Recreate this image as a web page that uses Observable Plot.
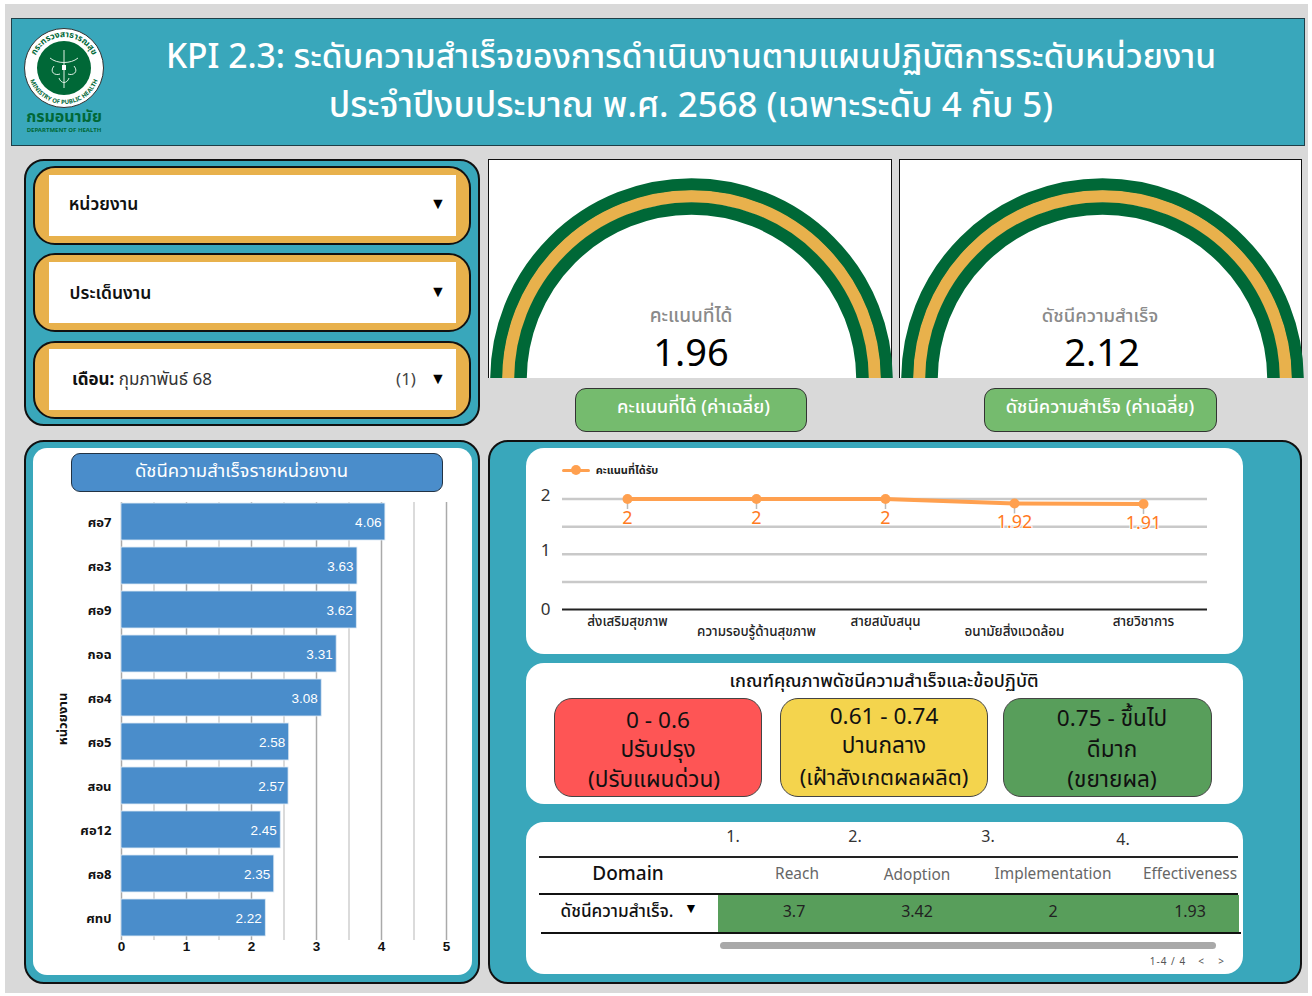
<!DOCTYPE html>
<html><head><meta charset="utf-8">
<script src="https://cdn.jsdelivr.net/npm/d3@7"></script>
<script src="https://cdn.jsdelivr.net/npm/@observablehq/plot@0.6"></script>
<style>
html,body{margin:0;padding:0;background:#fff;width:1312px;height:996px;overflow:hidden}
#app{position:relative;width:1312px;height:996px;font-family:"Noto Sans","Noto Sans Thai",sans-serif}
#app div{position:absolute;box-sizing:border-box}
.t{white-space:nowrap;transform:translate(-50%,-50%);line-height:1.2}
svg{display:block}
</style></head><body><div id="app"></div>
<script>
const FONT='"Noto Sans","Noto Sans Thai",sans-serif';
// ---- data ----
const units=["ศอ7","ศอ3","ศอ9","กอฉ","ศอ4","ศอ5","สอน","ศอ12","ศอ8","ศทป"];
const unitIndex=[4.06,3.63,3.62,3.31,3.08,2.58,2.57,2.45,2.35,2.22];
const workAreas=["ส่งเสริมสุขภาพ","ความรอบรู้ด้านสุขภาพ","สายสนับสนุน","อนามัยสิ่งแวดล้อม","สายวิชาการ"];
const workScores=[2,2,2,1.92,1.91];
const domains=["Reach","Adoption","Implementation","Effectiveness"];
const domainNumbers=["1.","2.","3.","4."];
const domainValues=[3.7,3.42,2,1.93];
const gaugeLabels=["คะแนนที่ได้","ดัชนีความสำเร็จ"];
const gaugeValues=[1.96,2.12];
const gaugeButtons=["คะแนนที่ได้ (ค่าเฉลี่ย)","ดัชนีความสำเร็จ (ค่าเฉลี่ย)"];

const TEAL="#39a7bb",ORANGE="#e8b14c",DKGREEN="#006837",BLUE="#4a8dcb",GREEN="#589e5b";
const app=document.getElementById("app");
function box(x0,y0,x1,y1,css={},parent=app){const d=document.createElement("div");
  Object.assign(d.style,{left:x0+"px",top:y0+"px",width:(x1-x0)+"px",height:(y1-y0)+"px"},css);parent.appendChild(d);return d;}
function text(s,cx,cy,size,color,css={}){const d=document.createElement("div");d.className="t";d.textContent=s;
  Object.assign(d.style,{left:cx+"px",top:cy+"px",fontSize:size+"px",color},css);app.appendChild(d);return d;}
function place(node,x,y,w,h){const d=box(x,y,x+w,y+h);d.appendChild(node);return d;}

// ---- page ----
box(5,4,1308,993,{background:"#d9d9d9"});
box(11,18,1305,146,{background:TEAL,border:"1.5px solid #1f3f48"});
text("KPI 2.3: ระดับความสำเร็จของการดำเนินงานตามแผนปฏิบัติการระดับหน่วยงาน",691,55,33.6,"#fff",{fontWeight:500});
text("ประจำปีงบประมาณ พ.ศ. 2568 (เฉพาะระดับ 4 กับ 5)",691,104,34.9,"#fff",{fontWeight:500});

// logo
const logo=d3.create("svg").attr("width",90).attr("height",112).attr("viewBox","0 0 90 112");
logo.append("circle").attr("cx",45).attr("cy",40).attr("r",39.5).attr("fill","#fff").attr("stroke","#333").attr("stroke-width",1);
logo.append("circle").attr("cx",45).attr("cy",40).attr("r",27).attr("fill",DKGREEN);
logo.append("path").attr("id","arcTop").attr("d","M14,40 A31,31 0 0 1 76,40").attr("fill","none");
logo.append("path").attr("id","arcBot").attr("d","M9,40 A36,36 0 0 0 81,40").attr("fill","none");
logo.append("text").attr("font-size",8.5).attr("font-weight",700).attr("fill",DKGREEN).append("textPath").attr("href","#arcTop").attr("startOffset","50%").attr("text-anchor","middle").text("กระทรวงสาธารณสุข");
logo.append("text").attr("font-size",6).attr("font-weight",700).attr("fill",DKGREEN).append("textPath").attr("href","#arcBot").attr("startOffset","50%").attr("text-anchor","middle").text("MINISTRY OF PUBLIC HEALTH");
logo.append("path").attr("d","M45,22V60M31,30C38,36 52,36 59,30M35,38C30,44 36,48 41,46M55,38C60,44 54,48 49,46M40,50C42,56 48,56 50,50").attr("fill","none").attr("stroke","#dff0e5").attr("stroke-width",1);
logo.append("rect").attr("x",43).attr("y",37).attr("width",4).attr("height",5).attr("fill","#fff");
logo.append("text").attr("x",45).attr("y",94).attr("text-anchor","middle").attr("font-size",16).attr("font-weight",700).attr("fill",DKGREEN).text("กรมอนามัย");
logo.append("text").attr("x",45).attr("y",104).attr("text-anchor","middle").attr("font-size",6).attr("font-weight",700).attr("fill",DKGREEN).text("DEPARTMENT OF HEALTH");
place(logo.node(),19,28,90,112);

// filters
box(24,159,480,426,{background:TEAL,border:"2.5px solid #111",borderRadius:"20px"});
[[166,245,175,236],[253,332,262,323],[341,419,349,410]].forEach(([a,b,c,e])=>{
  box(33,a,471,b,{background:ORANGE,border:"2.5px solid #111",borderRadius:"22px"});
  box(49,c,456,e,{background:"#fff"});
});
text("หน่วยงาน",103.5,203,17.5,"#111",{fontWeight:600});
text("ประเด็นงาน",110.5,292,17.5,"#111",{fontWeight:600});
const month=text("",142,379,17,"#333");month.innerHTML='<b style="color:#111">เดือน:</b> กุมภาพันธ์ 68';
text("(1)",406,379,17,"#444");
[204,292,379].forEach(y=>text("▼",438,y,16,"#000"));

// gauges
[[488,892,691],[899,1302,1102]].forEach(([x0,x1,cx],i)=>{
  box(x0,159,x1,378,{background:"#fff",borderTop:"1.5px solid #111",borderLeft:"1.5px solid #111",borderRight:"1.5px solid #111"});
  const rings=[[195,DKGREEN],[183,ORANGE],[171,DKGREEN]];
  const g=Plot.plot({width:420,height:219,margin:0,axis:null,
    x:{domain:[0,1],range:[0,420]},y:{domain:[0,1],range:[220,0]},
    marks:rings.map(([r,c])=>Plot.dot([0],{x:()=>0.5,y:()=>0,r,stroke:c,strokeWidth:12.6,fill:"none"}))});
  place(g,cx-210,159,420,219);
  text(gaugeLabels[i],i?1100:cx,315,i?18.5:19,"#8a8a8a",{fontWeight:500});
  text(gaugeValues[i],cx,352,38,"#000");
});
[[575,807],[984,1217]].forEach(([a,b],i)=>{
  box(a,388,b,432,{background:"#75bb6e",border:"1px solid #333",borderRadius:"11px"});
  text(gaugeButtons[i],i?1100:693.5,406,18.3,"#fff",{fontWeight:500});
});

// bar panel
box(24,440,480,984,{background:TEAL,border:"2.5px solid #111",borderRadius:"20px"});
box(33,448,472,975,{background:"#fff",borderRadius:"14px"});
box(71,453,443,492,{background:BLUE,border:"1px solid #234",borderRadius:"9px"});
text("ดัชนีความสำเร็จรายหน่วยงาน",241.5,470,18.5,"#fff");
const barData=units.map((u,i)=>({u,v:unitIndex[i]}));
const NUM='"Liberation Sans",sans-serif';
const bars=Plot.plot({width:439,height:470,marginLeft:88,marginRight:26,marginTop:0,marginBottom:24,
  style:{fontFamily:FONT,background:"transparent"},
  x:{domain:[0,5],range:[88,413]},
  y:{domain:units,range:[1,448],padding:0.16,round:false},
  marks:[
    Plot.ruleX(d3.range(0,5.5,1),{stroke:"#aaa",strokeWidth:1.5,insetTop:7,insetBottom:1}),
    Plot.ruleX(d3.range(0.5,5,1),{stroke:"#cfcfcf",strokeWidth:1.5,insetTop:7,insetBottom:1}),
    Plot.barX(barData,{x:"v",y:"u",fill:BLUE,stroke:"#dbe8f4",strokeWidth:0.8}),
    Plot.text(barData,{x:"v",y:"u",text:d=>d3.format(".2f")(d.v),dx:-4,dy:1,textAnchor:"end",fill:"#fff",fontSize:13.5,fontFamily:NUM}),
    Plot.axisY({tickSize:0,tickPadding:10,fontSize:13,fontWeight:700,dy:1,label:null,color:"#111"}),
    Plot.axisX({tickSize:0,tickPadding:0,ticks:[0,1,2,3,4,5],tickFormat:"d",fontSize:13.5,fontFamily:NUM,fontWeight:700,label:null,color:"#111"})
  ]});
place(bars,33,495,439,470);
text("หน่วยงาน",63,719,13,"#111",{fontWeight:700,transform:"translate(-50%,-50%) rotate(-90deg)"});

// right panel
box(488,440,1302,984,{background:TEAL,border:"2.5px solid #111",borderRadius:"20px"});
box(526,448,1243,654,{background:"#fff",borderRadius:"18px"});
box(526,663,1243,804,{background:"#fff",borderRadius:"18px"});
box(526,822,1243,974,{background:"#fff",borderRadius:"18px"});

// line chart
const lineData=workAreas.map((a,i)=>({a,v:workScores[i],i}));
const LC="#ffa04f",LT="#ff7a1f";
const line=Plot.plot({width:717,height:206,margin:0,marginLeft:36,marginRight:36,axis:null,
  style:{fontFamily:FONT,background:"transparent"},
  x:{type:"point",domain:workAreas,padding:0.5,range:[36,681]},
  y:{domain:[0,2],range:[161,50.5]},
  marks:[
    Plot.ruleY([0.5,1,1.5,2],{stroke:"#c9c9c9",strokeWidth:2.5}),
    Plot.ruleY([0],{stroke:"#222",strokeWidth:2}),
    Plot.ruleX(lineData,{x:"a",y1:"v",y2:d=>d.v-0.19,stroke:"#bbb",strokeWidth:1.5}),
    Plot.line(lineData,{x:"a",y:"v",stroke:LC,strokeWidth:4,curve:"linear"}),
    Plot.dot(lineData,{x:"a",y:"v",r:5,fill:LC}),
    Plot.text(lineData,{x:"a",y:"v",text:d=>String(d.v),dy:19,fill:LT,fontSize:18,stroke:"#fff",strokeWidth:2}),
    Plot.axisY({ticks:[1,2],tickSize:0,tickPadding:12,tickFormat:"d",fontSize:17,dy:-3.5,label:null,color:"#333"}),
    Plot.axisY({ticks:[0],tickSize:0,tickPadding:12,tickFormat:"d",fontSize:17,label:null,color:"#333"}),
    Plot.text(lineData,{filter:d=>d.i%2==0,x:"a",y:()=>0,text:"a",dy:12,fontSize:13.4,fontWeight:500,fill:"#222"}),
    Plot.text(lineData,{filter:d=>d.i%2==1,x:"a",y:()=>0,text:"a",dy:22,fontSize:13.4,fontWeight:500,fill:"#222"})
  ]});
place(line,526,448,717,206);
box(562,468.5,590,471.5,{background:LC,borderRadius:"2px"});
box(571,465,581,475,{background:LC,borderRadius:"50%"});
text("คะแนนที่ได้รับ",627,470,11,"#222",{fontWeight:700});

// criteria
text("เกณฑ์คุณภาพดัชนีความสำเร็จและข้อปฏิบัติ",884,681,18,"#111",{fontWeight:500});
const critBoxes=[[554,762,"#fe5555"],[780,988,"#f4d44d"],[1003,1212,GREEN]];
critBoxes.forEach(([a,b,c])=>box(a,698,b,797,{background:c,border:"1px solid #444",borderRadius:"18px"}));
const critText=[["0 - 0.6",658,720,22.6],["ปรับปรุง",658,749,22.6],["(ปรับแผนด่วน)",654,779,22.6],
 ["0.61 - 0.74",884,716,22.6],["ปานกลาง",884,745,22.6],["(เฝ้าสังเกตผลผลิต)",884,776,22],
 ["0.75 - ขึ้นไป",1112,718,22.6],["ดีมาก",1112,749,22.6],["(ขยายผล)",1112,779,22.6]];
critText.forEach(([s,x,y,z])=>text(s,x,y,z,"#111"));

// table
const colX=[794,917,1053,1190], numX=[733,855,988,1123], numY=[837,837,837,840];
domainNumbers.forEach((s,i)=>text(s,numX[i],numY[i],16,"#333"));
box(539,856,1238,858,{background:"#222"});
box(539,893,1238,895,{background:"#111"});
box(718,895,1239,932,{background:GREEN});
box(541,932,1241,933.5,{background:"#111"});
text("Domain",628,873,19,"#111",{fontWeight:500});
domains.forEach((s,i)=>text(s,i==0?797:colX[i],i==1?875:874,15.4,"#666"));
text("ดัชนีความสำเร็จ.",617,911,17.2,"#111",{fontWeight:500});
text("▼",691,908,14,"#000");
domainValues.forEach((v,i)=>text(String(v),colX[i],912,16,"#222"));
box(720,942,1216,949,{background:"#a9a9a9",borderRadius:"4px"});
text("1-4 / 4",1168,961,10,"#555",{letterSpacing:"1px"});
text("<",1201,961,10,"#555");
text(">",1221,961,10,"#555");
</script></body></html>
